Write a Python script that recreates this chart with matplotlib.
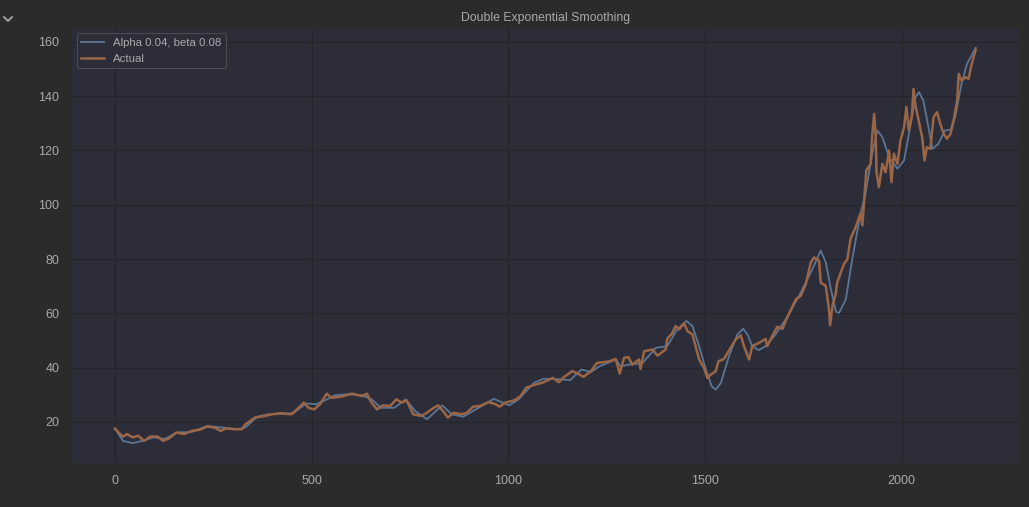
import matplotlib.pyplot as plt
from matplotlib.lines import Line2D

plt.rcParams['font.family'] = ['Liberation Sans', 'DejaVu Sans']

# values
actual_x = [0, 13, 20, 30, 45, 59, 74, 89, 108, 122, 137, 156, 176, 195, 215, 234, 253, 268, 283,
            303, 322, 331, 356, 380, 399, 419, 448, 458, 480, 492, 506, 521, 538, 550, 574, 603,
            628, 640, 652, 666, 681, 700, 715, 729, 741, 758, 778, 793, 807, 822, 837, 846, 861,
            880, 895, 910, 929, 949, 968, 978, 992, 1016, 1031, 1045, 1070, 1089, 1113, 1128,
            1142, 1162, 1176, 1191, 1210, 1225, 1256, 1273, 1283, 1294, 1305, 1315, 1332, 1336,
            1345, 1366, 1379, 1400, 1404, 1417, 1425, 1434, 1447, 1455, 1468, 1476, 1485, 1497,
            1506, 1514, 1527, 1534, 1548, 1565, 1578, 1591, 1599, 1612, 1620, 1637, 1654, 1658,
            1671, 1684, 1697, 1705, 1718, 1731, 1743, 1756, 1769, 1777, 1790, 1794, 1807, 1815,
            1818, 1824, 1832, 1836, 1853, 1862, 1870, 1883, 1895, 1900, 1910, 1921, 1925, 1930,
            1934, 1936, 1942, 1951, 1959, 1968, 1974, 1980, 1989, 1997, 2006, 2012, 2018, 2026,
            2030, 2035, 2043, 2052, 2058, 2064, 2073, 2081, 2090, 2098, 2107, 2115, 2124, 2132,
            2141, 2145, 2152, 2162, 2170, 2177, 2183, 2188]
actual_y = [17.5, 15.5, 14.6, 15.5, 14.3, 14.9, 13.0, 14.6, 14.6, 13.0, 13.9, 16.1, 15.5, 16.7,
            17.1, 18.3, 17.9, 16.7, 17.6, 17.3, 17.3, 19.1, 21.6, 22.2, 22.8, 23.2, 22.8, 24.0,
            27.1, 25.2, 24.6, 26.5, 30.4, 28.9, 29.3, 30.4, 29.5, 30.4, 27.1, 24.6, 26.1, 25.9,
            28.3, 27.1, 28.0, 22.8, 22.2, 23.4, 24.9, 26.1, 23.4, 21.6, 23.4, 22.8, 23.4, 25.6,
            25.9, 27.3, 26.5, 25.6, 27.1, 28.0, 29.5, 32.6, 33.8, 34.6, 36.2, 34.6, 36.6, 38.7,
            37.8, 36.6, 38.7, 41.7, 42.3, 43.2, 37.8, 43.6, 43.9, 41.1, 43.0, 39.5, 46.0, 46.7,
            44.4, 46.7, 50.6, 52.8, 55.3, 54.1, 56.3, 53.5, 52.2, 47.9, 43.0, 39.9, 36.2, 37.4,
            38.6, 42.3, 43.2, 47.3, 50.4, 51.9, 47.9, 43.0, 47.9, 49.1, 50.6, 47.9, 51.6, 55.1,
            54.3, 57.2, 61.2, 65.2, 66.4, 70.7, 78.8, 80.6, 79.4, 71.4, 70.1, 61.5, 55.6, 62.7,
            67.0, 71.4, 78.1, 80.0, 87.5, 91.8, 96.7, 92.4, 112.6, 115.1, 125.5, 133.5, 124.9,
            112.0, 106.5, 115.1, 112.0, 120.0, 108.3, 118.8, 115.1, 123.7, 128.6, 136.0, 127.4,
            132.9, 142.7, 136.6, 131.0, 124.9, 116.3, 121.2, 120.6, 132.3, 134.1, 129.8, 126.1,
            124.3, 126.1, 131.0, 138.4, 148.2, 145.8, 147.0, 146.4, 151.3, 154.4, 157.1]

smooth_x = [0, 20, 45, 69, 98, 127, 156, 195, 234, 273, 313, 331, 361, 390, 428, 453, 486, 511,
            530, 559, 593, 628, 652, 676, 710, 739, 763, 793, 832, 856, 885, 924, 963, 1002,
            1026, 1065, 1089, 1113, 1157, 1186, 1210, 1232, 1273, 1285, 1307, 1341, 1375, 1404,
            1429, 1453, 1468, 1485, 1502, 1517, 1527, 1540, 1561, 1582, 1597, 1608, 1620, 1636,
            1654, 1679, 1705, 1739, 1773, 1794, 1807, 1820, 1833, 1841, 1858, 1874, 1895, 1908,
            1925, 1938, 1951, 1968, 1989, 2006, 2023, 2035, 2044, 2055, 2068, 2078, 2093, 2110,
            2124, 2136, 2152, 2166, 2188]
smooth_y = [17.5, 13.0, 12.2, 13.0, 14.3, 13.7, 16.1, 16.3, 18.5, 17.9, 17.3, 17.9, 21.9, 22.8,
            23.0, 23.2, 26.8, 26.5, 27.7, 29.8, 30.2, 29.8, 28.3, 25.2, 25.2, 28.3, 24.0, 21.0,
            26.1, 22.8, 21.9, 25.2, 28.5, 26.1, 28.3, 34.4, 35.9, 35.9, 35.4, 39.3, 38.4, 40.5,
            43.0, 40.5, 41.1, 41.7, 47.3, 47.9, 54.1, 57.2, 55.3, 47.9, 39.3, 33.1, 31.9, 34.3,
            44.2, 52.2, 54.3, 52.2, 47.9, 46.4, 47.9, 52.2, 57.8, 66.4, 76.3, 83.1, 78.8, 68.9,
            60.5, 60.2, 65.2, 79.7, 96.7, 104.0, 118.8, 127.4, 124.9, 117.5, 113.3, 116.3, 129.8,
            139.6, 141.5, 138.4, 128.6, 120.6, 122.4, 127.4, 127.6, 132.3, 144.5, 151.9, 157.8]

text_col = '#a9a9a9'

fig = plt.figure(figsize=(10.29, 5.07), dpi=100, facecolor='#2b2b2b')
ax = fig.add_axes([0.070, 0.087, 0.920, 0.856])
ax.set_facecolor('#2d2d3a')

ax.plot(smooth_x, smooth_y, color='#5b7595', linewidth=1.3, label='Alpha 0.04, beta 0.08')
ax.plot(actual_x, actual_y, color='#9b6645', linewidth=1.8, label='Actual')

ax.grid(True, color='#252528', linewidth=0.8)
ax.set_axisbelow(True)
for s in ax.spines.values():
    s.set_visible(False)
ax.tick_params(length=0, colors=text_col, labelsize=9, pad=9)
ax.set_xticks([0, 500, 1000, 1500, 2000])
ax.set_yticks([20, 40, 60, 80, 100, 120, 140, 160])
ax.set_xlim(-109.5, 2297.5)
ax.set_ylim(4.9, 164.8)

ax.set_title('Double Exponential Smoothing', color=text_col, fontsize=8.8, pad=6)

leg = ax.legend(loc='upper left', fontsize=8.2, facecolor='#2d2d3a', edgecolor='#4a4a4a',
                labelcolor=text_col, framealpha=1.0, borderpad=0.4, handlelength=2.0,
                handletextpad=0.8, borderaxespad=0.4)
leg.get_frame().set_linewidth(0.8)

# small chevron in the top left corner
fig.add_artist(Line2D([4 / 1029, 8 / 1029, 12 / 1029], [1 - 17 / 507, 1 - 21 / 507, 1 - 17 / 507],
                      color='#b0b0b0', linewidth=1.2))

fig.savefig('out.png', dpi=100, facecolor=fig.get_facecolor())
